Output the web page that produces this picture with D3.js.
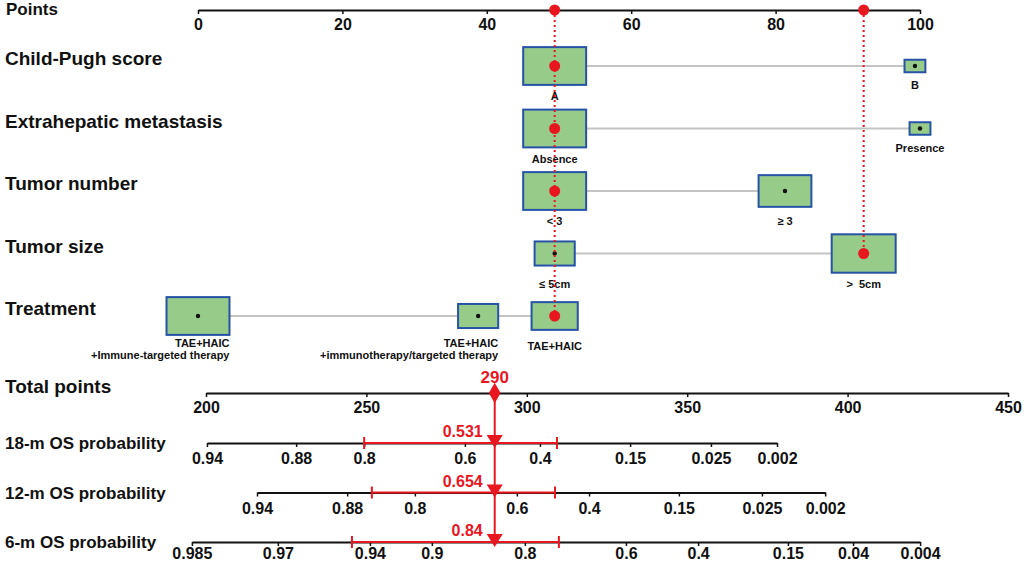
<!DOCTYPE html>
<html>
<head>
<meta charset="utf-8">
<script src="https://cdn.jsdelivr.net/npm/d3@7"></script>
<style>
  body { margin: 0; background: #fff; }
  text { font-family: Arial, "Liberation Sans", sans-serif; font-weight: bold; fill: #111; white-space: pre; }
</style>
</head>
<body>
<div id="chart"></div>
<script>
// nomogram values
const pointTicks = [0, 20, 40, 60, 80, 100]
const variables = ['Child-Pugh score', 'Extrahepatic metastasis', 'Tumor number', 'Tumor size', 'Treatment']
const levelLabels = [
  ['A', 'B'],
  ['Absence', 'Presence'],
  ['< 3', '≥ 3'],
  ['≤ 5cm', '>  5cm'],
  ['TAE+HAIC\n+Immune-targeted therapy', 'TAE+HAIC\n+immunotherapy/targeted therapy', 'TAE+HAIC']
]
const levelPoints = [[49.4, 99.3], [49.4, 100], [49.4, 81.3], [49.4, 92.2], [0, 38.8, 49.4]]
const levelFreq = [[0.91, 0.10], [0.91, 0.10], [0.91, 0.64], [0.37, 0.94], [0.91, 0.37, 0.49]]
const selected = [0, 0, 0, 1, 2]

const totalTicks = [200, 250, 300, 350, 400, 450]
const totalScore = 290

const osLabels = ['18-m OS probability', '12-m OS probability', '6-m OS probability']
const osTickValues = [
  ['0.94', '0.88', '0.8', '0.6', '0.4', '0.15', '0.025', '0.002'],
  ['0.94', '0.88', '0.8', '0.6', '0.4', '0.15', '0.025', '0.002'],
  ['0.985', '0.97', '0.94', '0.9', '0.8', '0.6', '0.4', '0.15', '0.04', '0.004']
]
// total points at which each probability tick sits
const osTickPoints = [
  [200.3, 228.1, 249.3, 280.7, 304.1, 332.2, 357.4, 378.0],
  [215.9, 244.0, 265.1, 296.9, 319.4, 347.4, 373.3, 393.0],
  [195.6, 222.4, 251.1, 270.4, 299.4, 330.9, 353.4, 381.4, 401.7, 422.6]
]
const osPredicted = ['0.531', '0.654', '0.84']
const osInterval = [[249.3, 309.4], [251.7, 308.8], [245.5, 310.0]]

const RED = '#e8171f'
const width = 1024
const height = 565

const svg = d3.select('#chart').append('svg')
  .attr('width', width).attr('height', height)

const xPts = d3.scaleLinear().domain([0, 100]).range([198, 920])
const xTot = d3.scaleLinear().domain([200, 450]).range([206, 1008])
const rowY = d3.scalePoint().domain(variables).range([66, 316])
const boxW = d3.scaleSqrt().domain([0, 1]).range([0, 66])

function styleAxis (g) {
  g.select('.domain').attr('stroke', '#111').attr('stroke-width', 2)
  g.selectAll('.tick line').attr('stroke', '#111').attr('stroke-width', 1.5)
  g.selectAll('.tick text').attr('font-size', 16).attr('fill', '#111')
    .attr('font-family', 'Arial, "Liberation Sans", sans-serif').attr('font-weight', 'bold')
}

// Points axis
svg.append('text').text('Points').attr('x', 6).attr('y', 15).attr('font-size', 17)
svg.append('g')
  .attr('transform', 'translate(0,10)')
  .call(d3.axisBottom(xPts).tickValues(pointTicks).tickSize(4).tickSizeOuter(0).tickPadding(5))
  .call(styleAxis)

// variable rows
variables.forEach((v, i) => {
  const y = rowY(v)
  svg.append('text').text(v).attr('x', 5).attr('y', y - 1).attr('font-size', 19)

  const pts = levelPoints[i]
  svg.append('line')
    .attr('x1', xPts(d3.min(pts))).attr('x2', xPts(d3.max(pts)))
    .attr('y1', y).attr('y2', y)
    .attr('stroke', '#c4c4c4').attr('stroke-width', 2)

  const levels = pts.map((p, j) => ({
    p, label: levelLabels[i][j], w: boxW(levelFreq[i][j]), sel: selected[i] === j
  }))

  const g = svg.selectAll(null).data(levels).enter().append('g')
    .attr('transform', d => `translate(${xPts(d.p)},${y})`)

  g.append('rect')
    .attr('x', d => -d.w / 2).attr('y', d => -d.w * 0.3)
    .attr('width', d => d.w).attr('height', d => d.w * 0.6)
    .attr('fill', '#97cb8a').attr('stroke', '#2653a6').attr('stroke-width', 2)

  g.filter(d => !d.sel).append('circle').attr('r', 2.2).attr('fill', '#111')

  g.each(function (d) {
    const lines = d.label.split('\n')
    const t = d3.select(this).append('text').attr('font-size', 11)
    if (lines.length > 1) {
      t.attr('text-anchor', 'end')
      lines.forEach((s, k) => {
        t.append('tspan').text(s).attr('x', d.w / 2).attr('y', 31 + 12 * k)
      })
    } else {
      const off = d.w * 0.6 > 20 ? 34 : 23
      t.attr('text-anchor', 'middle').attr('x', 0).attr('y', off).text(lines[0])
    }
  })
})

// red dotted guides from the Points axis to the patient's levels
const chosen = variables.map((v, i) => ({ p: levelPoints[i][selected[i]], y: rowY(v) }))
const guides = d3.rollups(chosen, a => d3.max(a, d => d.y), d => d.p)

svg.selectAll(null).data(guides).enter().append('line')
  .attr('x1', d => xPts(d[0])).attr('x2', d => xPts(d[0]))
  .attr('y1', 10).attr('y2', d => d[1])
  .attr('stroke', RED).attr('stroke-width', 2).attr('stroke-dasharray', '2,3')

svg.selectAll(null).data(guides).enter().append('circle')
  .attr('cx', d => xPts(d[0])).attr('cy', 10).attr('r', 5.5).attr('fill', RED)

svg.selectAll(null).data(chosen).enter().append('circle')
  .attr('cx', d => xPts(d.p)).attr('cy', d => d.y).attr('r', 5.5).attr('fill', RED)

// Total points axis
const totY = 393
svg.append('text').text('Total points').attr('x', 5).attr('y', totY).attr('font-size', 19)
svg.append('g')
  .attr('transform', `translate(0,${totY})`)
  .call(d3.axisBottom(xTot).tickValues(totalTicks).tickSize(4).tickSizeOuter(0).tickPadding(5))
  .call(styleAxis)

// probability axes
const osY = d3.scalePoint().domain(osLabels).range([443, 542])
const xScore = xTot(totalScore)

svg.append('line')
  .attr('x1', xScore).attr('x2', xScore)
  .attr('y1', totY).attr('y2', osY(osLabels[osLabels.length - 1]) - 4)
  .attr('stroke', RED).attr('stroke-width', 2)

osLabels.forEach((lab, i) => {
  const y = osY(lab)
  const tp = osTickPoints[i]
  const last = i === osLabels.length - 1
  svg.append('text').text(lab).attr('x', 5).attr('y', y + 6).attr('font-size', 17)

  const sc = d3.scaleLinear()
    .domain([tp[0], tp[tp.length - 1]])
    .range([xTot(tp[0]), xTot(tp[tp.length - 1])])
  svg.append('g')
    .attr('transform', `translate(0,${y})`)
    .call(d3.axisBottom(sc).tickValues(tp).tickFormat((d, j) => osTickValues[i][j])
      .tickSize(4).tickSizeOuter(0).tickPadding(last ? 2 : 6))
    .call(styleAxis)

  const [a, b] = osInterval[i]
  svg.append('line')
    .attr('x1', xTot(a)).attr('x2', xTot(b)).attr('y1', y).attr('y2', y)
    .attr('stroke', RED).attr('stroke-width', 2)
  svg.selectAll(null).data([a, b]).enter().append('line')
    .attr('x1', d => xTot(d)).attr('x2', d => xTot(d))
    .attr('y1', y - 6).attr('y2', y + 6)
    .attr('stroke', RED).attr('stroke-width', 2)

  svg.append('path')
    .attr('d', `M${xScore - 8},${y - 8}L${xScore + 8},${y - 8}L${xScore},${y + 5}Z`)
    .attr('fill', RED)

  svg.append('text').text(osPredicted[i])
    .attr('x', xScore - 12).attr('y', y - 6)
    .attr('text-anchor', 'end').attr('font-size', 16).style('fill', RED)
})

// total score marker
svg.append('path')
  .attr('d', d3.symbol(d3.symbolDiamond, 120)())
  .attr('transform', `translate(${xScore},${totY})`)
  .attr('fill', RED)
svg.append('text').text(totalScore)
  .attr('x', xScore).attr('y', totY - 10)
  .attr('text-anchor', 'middle').attr('font-size', 17).style('fill', RED)
</script>
</body>
</html>
